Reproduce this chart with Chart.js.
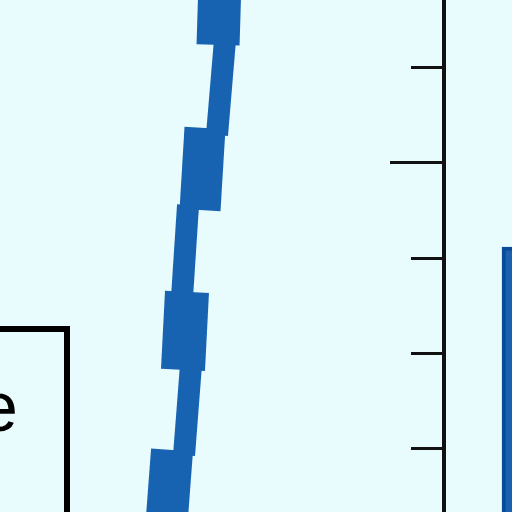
<!DOCTYPE html>
<html>
<head>
<meta charset="utf-8">
<script src="https://cdn.jsdelivr.net/npm/chart.js@4"></script>
<style>
  html, body { margin: 0; padding: 0; background: #e8fbfd; }
  canvas { display: block; }
</style>
</head>
<body>
<canvas id="c" width="512" height="512"></canvas>
<script>
// ---- data (arbitrary units; 1 unit = one tick step) ----
const xRange = [0, 5.375];
const yRange = [0.336, 5.711];
const axisX = 4.661;                 // x value where the vertical axis sits
const minorTicks = [1, 2, 3, 5];
const majorTicks = [4];

// thin stretches of the thick curve [start, end] as [x, y]
const thinSegA = [[2.362, 5.291], [2.278, 4.294]];
const thinSegB = [[1.974, 3.559], [1.911, 2.593]];
const thinSegC = [[2.005, 1.879], [1.932, 0.934]];
// bold stretches of the curve
const boldSegD = [[2.310, 5.921], [2.289, 5.239]];
const boldSegE = [[2.152, 4.367], [2.100, 3.507]];
const boldSegF = [[1.963, 2.646], [1.921, 1.827]];
const boldSegG = [[1.806, 0.987], [1.743, 0.147]];

// bar at the right edge
const barX = [5.585];
const barTop = [3.118];
const barBase = 0;

const legendLabel = 'e';

const lineBlue = '#1862b2';
const toPts = seg => seg.map(p => ({ x: p[0], y: p[1] }));

function lineDs(seg, w) {
  return {
    type: 'line', data: toPts(seg), borderColor: lineBlue, borderWidth: w,
    borderCapStyle: 'butt', borderJoinStyle: 'round', pointRadius: 0,
    fill: false, tension: 0, xAxisID: 'x', yAxisID: 'y'
  };
}

const bgPlugin = {
  id: 'bg',
  beforeDraw(chart) {
    const ctx = chart.ctx;
    ctx.save();
    ctx.fillStyle = '#e8fbfd';
    ctx.fillRect(0, 0, chart.width, chart.height);
    ctx.restore();
  }
};

const legendBoxPlugin = {
  id: 'legendBox',
  afterDraw(chart) {
    const ctx = chart.ctx;
    ctx.save();
    ctx.strokeStyle = '#000';
    ctx.lineWidth = 6;
    ctx.strokeRect(-120, 329, 187, 400);
    ctx.fillStyle = '#000';
    ctx.font = '70px "Liberation Sans", Arial, sans-serif';
    ctx.textAlign = 'right';
    ctx.textBaseline = 'alphabetic';
    ctx.fillText(legendLabel, 18, 431);
    ctx.restore();
  }
};

const noWidth = s => { s.width = 0; };

new Chart(document.getElementById('c'), {
  type: 'line',
  data: {
    datasets: [
      {
        type: 'bar',
        data: barX.map((x, i) => ({ x: x, y: barTop[i] })),
        base: barBase,
        barThickness: 60,
        backgroundColor: '#1c60b0',
        borderColor: '#0b4a98',
        borderWidth: 4,
        borderSkipped: false,
        xAxisID: 'x', yAxisID: 'y'
      },
      lineDs(thinSegA, 22),
      lineDs(thinSegB, 22),
      lineDs(thinSegC, 22),
      lineDs(boldSegD, 43),
      lineDs(boldSegE, 41),
      lineDs(boldSegF, 44),
      lineDs(boldSegG, 42)
    ]
  },
  options: {
    responsive: false,
    animation: false,
    devicePixelRatio: 1,
    layout: { padding: 0, autoPadding: false },
    plugins: { legend: { display: false }, tooltip: { enabled: false } },
    scales: {
      x: { type: 'linear', min: xRange[0], max: xRange[1], display: false, offset: false, grid: { offset: false } },
      y: { type: 'linear', min: yRange[0], max: yRange[1], display: false },
      yMinor: {
        type: 'linear', min: yRange[0], max: yRange[1],
        position: { x: axisX },
        afterBuildTicks: s => { s.ticks = minorTicks.map(v => ({ value: v })); },
        afterFit: noWidth,
        ticks: { display: false },
        grid: { drawOnChartArea: false, drawTicks: true, tickLength: 31, color: '#111', lineWidth: 3 },
        border: { display: true, color: '#111', width: 4 }
      },
      yMajor: {
        type: 'linear', min: yRange[0], max: yRange[1],
        position: { x: axisX },
        afterBuildTicks: s => { s.ticks = majorTicks.map(v => ({ value: v })); },
        afterFit: noWidth,
        ticks: { display: false },
        grid: { drawOnChartArea: false, drawTicks: true, tickLength: 54, color: '#111', lineWidth: 3 },
        border: { display: false }
      }
    }
  },
  plugins: [bgPlugin, legendBoxPlugin]
});
</script>
</body>
</html>
